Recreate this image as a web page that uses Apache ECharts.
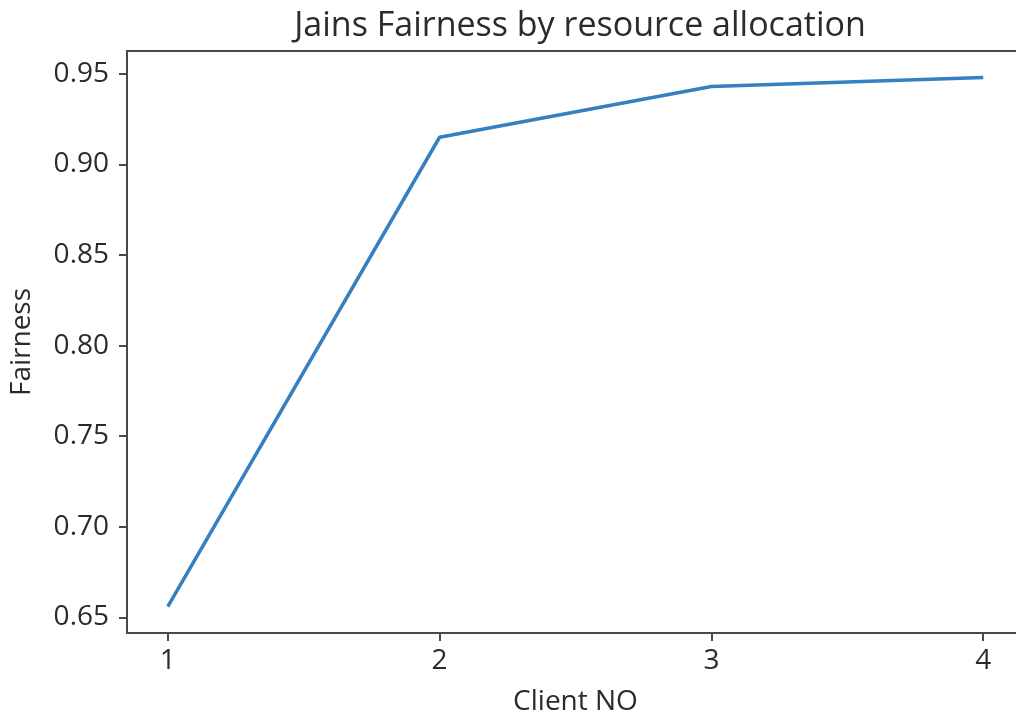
<!DOCTYPE html>
<html>
<head>
<meta charset="utf-8">
<title>Jains Fairness by resource allocation</title>
<script src="https://cdn.jsdelivr.net/npm/echarts@6/dist/echarts.min.js"></script>
<style>
  html, body { margin: 0; padding: 0; background: #ffffff; }
  #chart { width: 1016px; height: 720px; }
</style>
</head>
<body>
<div id="chart"></div>
<script>
// Client numbers and the Jain fairness index measured for each
const clients = [1, 2, 3, 4];
const fairness = [0.656, 0.915, 0.943, 0.948];
const xTicks = [1, 2, 3, 4];
const yTicks = [0.65, 0.70, 0.75, 0.80, 0.85, 0.90, 0.95];

// Axis limits padded by 5% of the data span on each side
const xSpan = clients[clients.length - 1] - clients[0];
const xMin = clients[0] - 0.05 * xSpan;
const xMax = clients[clients.length - 1] + 0.05 * xSpan;
const yLo = Math.min.apply(null, fairness);
const yHi = Math.max.apply(null, fairness);
const ySpan = yHi - yLo;
const yMin = yLo - 0.05 * ySpan;
const yMax = yHi + 0.05 * ySpan;

const font = '"Open Sans", "Noto Sans", "DejaVu Sans", sans-serif';
const ink = '#2b2b2b';
const spine = '#4a4a4a';

const chart = echarts.init(document.getElementById('chart'), null, { renderer: 'canvas' });
chart.setOption({
  animation: false,
  backgroundColor: '#ffffff',
  title: {
    text: 'Jains Fairness by resource allocation',
    left: 575,
    textAlign: 'center',
    top: 4,
    textStyle: { fontFamily: font, fontSize: 34, fontWeight: 'normal', color: ink }
  },
  grid: {
    left: 127, top: 51, width: 897, height: 582,
    outerBoundsMode: 'none',
    containLabel: false,
    show: true, borderColor: spine, borderWidth: 2, backgroundColor: 'transparent'
  },
  xAxis: {
    type: 'value',
    min: xMin, max: xMax,
    name: 'Client NO',
    nameLocation: 'middle',
    nameGap: 55,
    nameTextStyle: { fontFamily: font, fontSize: 28, color: ink },
    axisLine: { show: true, onZero: false, lineStyle: { color: spine, width: 2 } },
    axisTick: { show: true, customValues: xTicks, length: 8, lineStyle: { color: spine, width: 2 } },
    axisLabel: {
      customValues: xTicks, margin: 14,
      fontFamily: font, fontSize: 28, color: ink,
      formatter: v => String(Math.round(v))
    },
    splitLine: { show: false }
  },
  yAxis: {
    type: 'value',
    min: yMin, max: yMax,
    name: 'Fairness',
    nameLocation: 'middle',
    nameGap: 91,
    nameRotate: 90,
    nameTextStyle: { fontFamily: font, fontSize: 28, color: ink },
    axisLine: { show: true, onZero: false, lineStyle: { color: spine, width: 2 } },
    axisTick: { show: true, customValues: yTicks, length: 8, lineStyle: { color: spine, width: 2 } },
    axisLabel: {
      customValues: yTicks, margin: 18,
      fontFamily: font, fontSize: 28, color: ink,
      formatter: v => v.toFixed(2)
    },
    splitLine: { show: false }
  },
  series: [{
    type: 'line',
    data: clients.map((c, i) => [c, fairness[i]]),
    showSymbol: false,
    symbol: 'none',
    lineStyle: { color: '#3580c0', width: 3.5 }
  }]
});
</script>
</body>
</html>
